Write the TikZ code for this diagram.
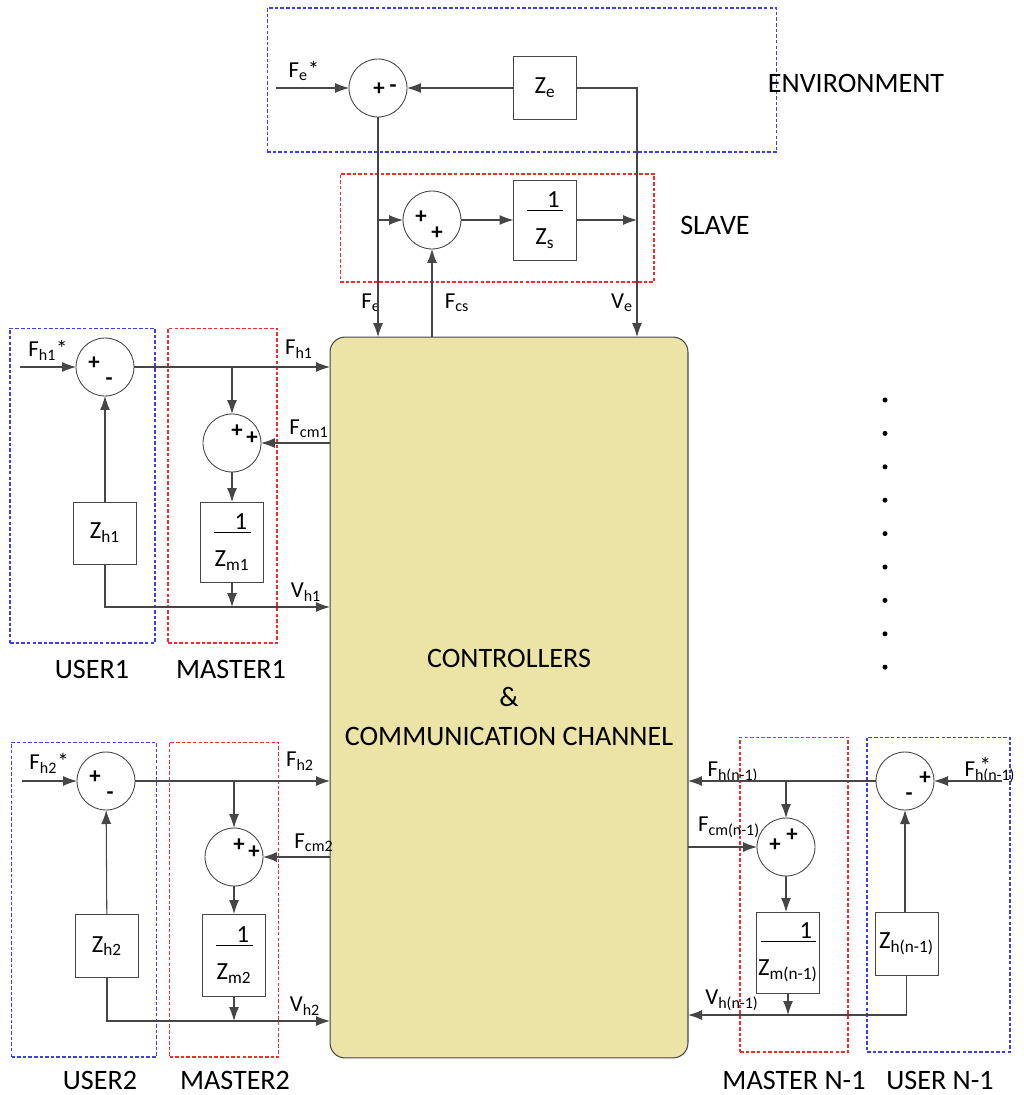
\documentclass[tikz,border=0pt]{standalone}
\usepackage{fontspec}
\setmainfont{Carlito}
\usepackage{xcolor}
\usepackage{tikz}
\usetikzlibrary{arrows.meta}

\definecolor{cccfill}{RGB}{236,228,166}
\definecolor{wiregray}{RGB}{70,70,70}
\definecolor{userblue}{RGB}{60,60,240}
\definecolor{masterred}{RGB}{250,40,40}

% 1 over Z block text
\newcommand{\oneover}[2]{\makebox[#2][r]{1\hspace{2pt}}\\[-14pt]\rule{#2}{0.5pt}\\[3pt]Z\textsubscript{#1}}

\begin{document}
\begin{tikzpicture}[
        x=0.02cm, y=-0.02cm,
        every node/.style={inner sep=0pt, outer sep=0pt},
        lbl/.style={font=\fontsize{13}{15}\selectfont},
        title/.style={font=\fontsize{16}{19}\selectfont},
        sumnode/.style={circle, draw=wiregray, line width=0.5pt, minimum size=1.16cm},
        block/.style={draw=wiregray, line width=0.5pt, minimum width=1.26cm, align=center, font=\fontsize{14}{16}\selectfont},
        sign/.style={font=\bfseries\fontsize{13}{15}\selectfont},
        arrow/.style={-{Latex[length=0.28cm, width=0.2cm]}, draw=wiregray, line width=0.6pt},
        userbox/.style={draw=userblue, dash pattern=on 2pt off 1.2pt, line width=0.6pt},
        masterbox/.style={draw=masterred, dash pattern=on 2pt off 1.2pt, line width=0.6pt},
        dotmark/.style={circle, fill=black, minimum size=0.1cm}
    ]
    \useasboundingbox (0,0) rectangle (1024,1095);

    % Central block
    \node[draw=wiregray, fill=cccfill, rounded corners=0.3cm, line width=0.6pt,
          minimum width=7.16cm, minimum height=14.42cm, align=center,
          font=\fontsize{16}{22.4}\selectfont] (cc) at (509,697.5)
          {CONTROLLERS\\\&\\COMMUNICATION CHANNEL};

    % Environment
    \node[userbox, minimum width=10.2cm, minimum height=2.88cm] (envbox) at (522,80) {};
    \node[title] (envtitle) at (856,83) {ENVIRONMENT};
    \node[sumnode] (sume) at (378,88) {};
    \node[sign] (sumep) at (379,89) {+};
    \node[sign] (sumem) at (393,89) {-};
    \node[block, minimum height=1.26cm] (ze) at (545,88) {Z\textsubscript{e}};
    \coordinate (fein) at (276,88);
    \coordinate (ve) at (637,337);
    \node[lbl] (felbl) at (304,71) {F\textsubscript{e}*};

    % Slave
    \node[masterbox, minimum width=6.28cm, minimum height=2.16cm] (slavebox) at (497,228) {};
    \node[title] (slavetitle) at (715,225) {SLAVE};
    \node[sumnode] (sums) at (432,220) {};
    \node[sign] (sumsp1) at (421,217) {+};
    \node[sign] (sumsp2) at (437,233) {+};
    \node[block, minimum height=1.6cm] (zs) at (545,220) {\oneover{s}{0.72cm}};
    \node[lbl] (fedown) at (371,303) {F\textsubscript{e}};
    \node[lbl] (fcsup) at (457,303) {F\textsubscript{cs}};
    \node[lbl] (vedown) at (622,303) {V\textsubscript{e}};

    \draw[arrow] (fein) -- (sume);
    \draw[arrow] (ze) -- (sume);
    \draw[arrow] (ze.east) -| (ve);
    \draw[arrow] (sume) -- (sume |- cc.north);
    \draw[arrow] (sume |- sums) -- (sums);
    \draw[arrow] (sums) -- (zs);
    \draw[arrow] (zs) -- (zs -| ve);
    \draw[arrow] (sums |- cc.north) -- (sums);

    % User 1 and master 1
    \node[userbox, minimum width=2.9cm, minimum height=6.3cm] (user1) at (82.5,485.5) {};
    \node[masterbox, minimum width=2.18cm, minimum height=6.3cm] (master1) at (222.5,485.5) {};
    \node[title] (user1title) at (92,669) {USER1};
    \node[title] (master1title) at (231,669) {MASTER1};
    \node[sumnode] (su1) at (105,367) {};
    \node[sign] (su1p) at (94,363) {+};
    \node[sign] (su1m) at (109,382) {-};
    \node[block, minimum height=1.24cm] (zh1) at (105,533) {Z\textsubscript{h1}};
    \node[sumnode] (sm1) at (232,443) {};
    \node[sign] (sm1p1) at (237,431) {+};
    \node[sign] (sm1p2) at (252,438) {+};
    \node[block, minimum height=1.6cm] (zm1) at (232,542) {\oneover{m1}{0.74cm}};
    \coordinate (fh1in) at (20,367);
    \coordinate (b1) at (232,367);
    \coordinate (v1) at (330,607);
    \node[lbl] (fh1ref) at (48,350) {F\textsubscript{h1}*};
    \node[lbl] (fh1lbl) at (299,349) {F\textsubscript{h1}};
    \node[lbl] (fcm1lbl) at (309,429) {F\textsubscript{cm1}};
    \node[lbl] (vh1lbl) at (306,592) {V\textsubscript{h1}};

    \draw[arrow] (fh1in) -- (su1);
    \draw[arrow] (zh1) -- (su1);
    \draw[arrow] (su1) -- (su1 -| cc.west);
    \draw[arrow] (b1) -- (sm1);
    \draw[arrow] (sm1 -| cc.west) -- (sm1);
    \draw[arrow] (sm1) -- (zm1);
    \draw[arrow] (zh1.south) |- (v1);
    \draw[arrow] (zm1) -- (zm1 |- v1);

    % User 2 and master 2
    \node[userbox, minimum width=2.9cm, minimum height=6.3cm] (user2) at (84,899.5) {};
    \node[masterbox, minimum width=2.18cm, minimum height=6.3cm] (master2) at (224,899.5) {};
    \node[title] (user2title) at (100,1080) {USER2};
    \node[title] (master2title) at (235,1080) {MASTER2};
    \node[sumnode] (su2) at (106,781) {};
    \node[sign] (su2p) at (95,777) {+};
    \node[sign] (su2m) at (110,796) {-};
    \node[block, minimum height=1.26cm] (zh2) at (107,946) {Z\textsubscript{h2}};
    \node[sumnode] (sm2) at (234,857) {};
    \node[sign] (sm2p1) at (239,845) {+};
    \node[sign] (sm2p2) at (254,852) {+};
    \node[block, minimum height=1.64cm] (zm2) at (234,955) {\oneover{m2}{0.74cm}};
    \coordinate (fh2in) at (22,781);
    \coordinate (b2) at (234,781);
    \coordinate (v2) at (330,1021);
    \node[lbl] (fh2ref) at (49,763) {F\textsubscript{h2}*};
    \node[lbl] (fh2lbl) at (300,761) {F\textsubscript{h2}};
    \node[lbl] (fcm2lbl) at (314,843) {F\textsubscript{cm2}};
    \node[lbl] (vh2lbl) at (305,1006) {V\textsubscript{h2}};

    \draw[arrow] (fh2in) -- (su2);
    \draw[arrow] (zh2) -- (su2);
    \draw[arrow] (su2) -- (su2 -| cc.west);
    \draw[arrow] (b2) -- (sm2);
    \draw[arrow] (sm2 -| cc.west) -- (sm2);
    \draw[arrow] (sm2) -- (zm2);
    \draw[arrow] (zh2.south) |- (v2);
    \draw[arrow] (zm2) -- (zm2 |- v2);

    % User n-1 and master n-1
    \node[masterbox, minimum width=2.16cm, minimum height=6.3cm] (mastern) at (794,894.5) {};
    \node[userbox, minimum width=2.86cm, minimum height=6.3cm] (usern) at (938.5,894.5) {};
    \node[title] (masterntitle) at (794,1080) {MASTER N-1};
    \node[title] (userntitle) at (940,1080) {USER N-1};
    \node[sumnode] (sun) at (905,781) {};
    \node[sign] (sunp) at (925,778) {+};
    \node[sign] (sunm) at (909,797) {-};
    \node[block, minimum height=1.26cm] (zhn) at (906.5,943.5) {Z\textsubscript{h(n-1)}};
    \node[sumnode] (smn) at (786,847) {};
    \node[sign] (smnp1) at (775,845) {+};
    \node[sign] (smnp2) at (792,835) {+};
    \node[block, minimum height=1.62cm] (zmn) at (788,952.5) {\oneover{m(n-1)}{1.1cm}};
    \coordinate (fhnin) at (1002,781);
    \coordinate (bn) at (786,781);
    \coordinate (vn) at (688,1015);
    \node[lbl] (fhnref) at (990,770) {F\makebox[0pt][l]{\raisebox{0.3ex}{\hspace{0.2em}*}}\textsubscript{h(n-1)}};
    \node[lbl] (fhnlbl) at (733,772) {F\textsubscript{h(n-1)}};
    \node[lbl] (fcmnlbl) at (729,827) {F\textsubscript{cm(n-1)}};
    \node[lbl] (vhnlbl) at (732,1000) {V\textsubscript{h(n-1)}};

    \draw[arrow] (fhnin) -- (sun);
    \draw[arrow] (sun) -- (sun -| cc.east);
    \draw[arrow] (bn) -- (smn);
    \draw[arrow] (smn -| cc.east) -- (smn);
    \draw[arrow] (smn) -- (smn |- zmn.north);
    \draw[arrow] (zhn.north -| sun) -- (sun);
    \draw[arrow] (zhn.south) |- (vn);
    \draw[arrow] (zmn.south) -- (zmn.south |- vn);

    % Dots for the other users
    \foreach \i in {0,...,8}
        \node[dotmark] (dot\i) at (885,{400+33.4*\i}) {};

\end{tikzpicture}
\end{document}
